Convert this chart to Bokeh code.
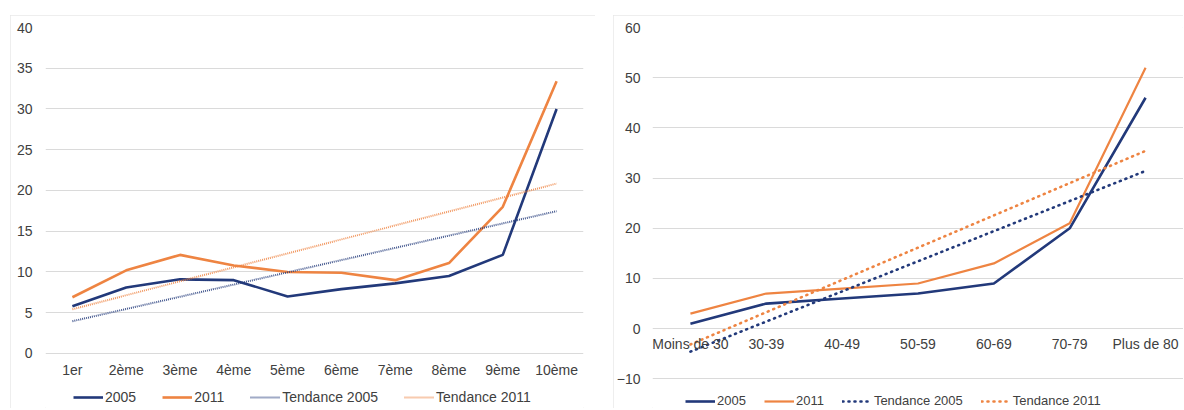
import numpy as np
from bokeh.plotting import figure
from bokeh.models import (Legend, LegendItem, FactorRange, Range1d, FixedTicker)
from bokeh.layouts import row
from bokeh.embed import file_html
from bokeh.resources import INLINE

# ---------------- data ----------------
deciles = ["1er", "2ème", "3ème", "4ème", "5ème", "6ème", "7ème", "8ème", "9ème", "10ème"]
dec_2005 = [5.8, 8.1, 9.1, 9.0, 7.0, 7.9, 8.6, 9.5, 12.1, 30.0]
dec_2011 = [6.9, 10.2, 12.1, 10.8, 10.0, 9.9, 9.0, 11.1, 18.0, 33.4]

ages = ["Moins de 30", "30-39", "40-49", "50-59", "60-69", "70-79", "Plus de 80"]
age_2005 = [1.0, 5.0, 6.0, 7.0, 9.0, 20.0, 46.0]
age_2011 = [3.0, 7.0, 8.0, 9.0, 13.0, 21.0, 52.0]

left_ticks = [0, 5, 10, 15, 20, 25, 30, 35, 40]
right_ticks = [-10, 0, 10, 20, 30, 40, 50, 60]

series_names = ["2005", "2011", "Tendance 2005", "Tendance 2011"]

NAVY = "#22397A"
ORANGE = "#EE8442"
TEXT = "#404040"
GRID = "#DADADA"
FONT = "Liberation Sans"


def trend(vals):
    x = np.arange(1, len(vals) + 1)
    a, b = np.polyfit(x, vals, 1)
    return list(a * x + b)


def style(p, ticks):
    p.yaxis.ticker = FixedTicker(ticks=ticks)
    for ax in p.axis:
        ax.axis_line_color = None
        ax.major_tick_line_color = None
        ax.minor_tick_line_color = None
        ax.major_tick_out = 0
        ax.major_tick_in = 0
        ax.minor_tick_out = 0
        ax.minor_tick_in = 0
        ax.major_label_text_font = FONT
        ax.major_label_text_font_size = "14px"
        ax.major_label_text_color = TEXT
    p.xgrid.grid_line_color = None
    p.ygrid.grid_line_color = GRID
    p.ygrid.grid_line_width = 1
    p.ygrid.ticker = FixedTicker(ticks=ticks)
    p.outline_line_color = None
    p.background_fill_color = "white"
    p.border_fill_color = "white"
    p.xaxis.fixed_location = 0
    p.styles = {"outline": "1px solid #E8E8E8", "outline-offset": "-1px"}


def make_legend(renderers, glyph_w, spacing, size, loc):
    items = [LegendItem(label=n, renderers=[r]) for n, r in zip(series_names, renderers)]
    lg = Legend(items=items, orientation="horizontal", location=loc)
    lg.label_text_font = FONT
    lg.label_text_font_size = size
    lg.label_text_color = TEXT
    lg.glyph_width = glyph_w
    lg.glyph_height = 14
    lg.label_height = 14
    lg.label_standoff = 2
    lg.spacing = spacing
    lg.padding = 2
    lg.margin = 0
    lg.border_line_color = None
    lg.background_fill_alpha = 0
    return lg


# ---------------- left chart ----------------
p1 = figure(x_range=FactorRange(*deciles), y_range=Range1d(-6.75, 40),
            width=585, height=393, output_backend="svg", toolbar_location=None,
            min_border_left=35, min_border_right=12, min_border_top=12, min_border_bottom=0,
            margin=(15, 0, 0, 10))
style(p1, left_ticks)
p1.xaxis.major_label_standoff = 9
p1.yaxis.major_label_standoff = 13

r1 = p1.line(deciles, dec_2005, line_color=NAVY, line_width=2.6)
r2 = p1.line(deciles, dec_2011, line_color=ORANGE, line_width=2.6)
r3 = p1.line(deciles, trend(dec_2005), line_color=NAVY, line_width=2, line_dash="1 1", line_alpha=0.85)
r4 = p1.line(deciles, trend(dec_2011), line_color=ORANGE, line_width=2, line_dash="1 1", line_alpha=0.85)
p1.add_layout(make_legend([r1, r2, r3, r4], 30, 26, "14px", (28, 3)))

# ---------------- right chart ----------------
p2 = figure(x_range=FactorRange(*ages), y_range=Range1d(-15.9, 60),
            width=570, height=393, output_backend="svg", toolbar_location=None,
            min_border_left=37, min_border_right=0, min_border_top=11, min_border_bottom=0,
            margin=(15, 0, 0, 18))
style(p2, right_ticks)
p2.xaxis.major_label_standoff = 7
p2.yaxis.major_label_standoff = 12

q1 = p2.line(ages, age_2005, line_color=NAVY, line_width=2.6)
q2 = p2.line(ages, age_2011, line_color=ORANGE, line_width=2.2)
q3 = p2.line(ages, trend(age_2005), line_color=NAVY, line_width=2.6, line_dash="1 5", line_cap="round")
q4 = p2.line(ages, trend(age_2011), line_color=ORANGE, line_width=2.6, line_dash="1 5", line_cap="round")
p2.add_layout(make_legend([q1, q2, q3, q4], 30, 18, "13px", (33, 0)))

layout = row(p1, p2)
open("out.html", "w").write(file_html(layout, INLINE))
